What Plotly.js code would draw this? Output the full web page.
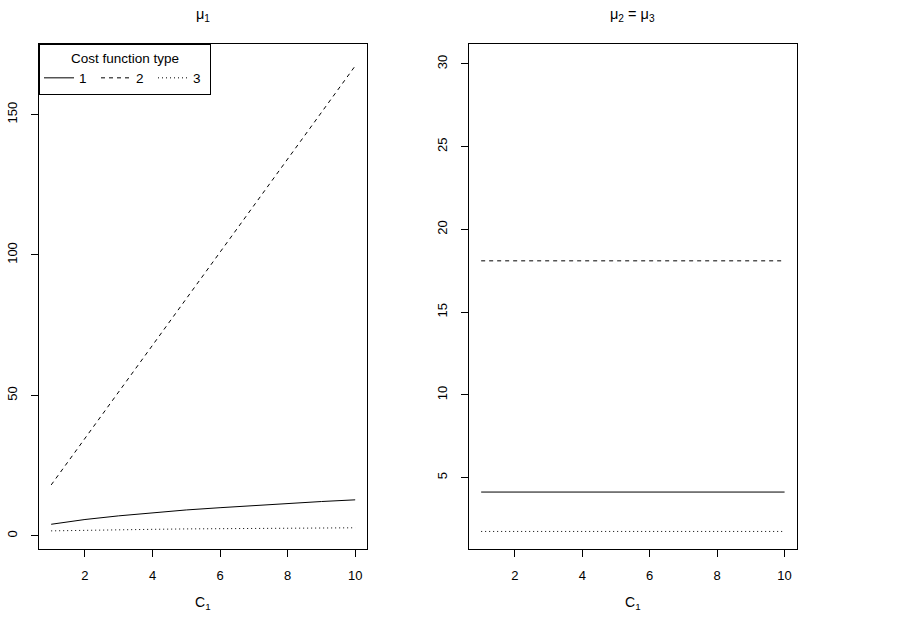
<!DOCTYPE html>
<html>
<head>
<meta charset="utf-8">
<script src="https://cdn.plot.ly/plotly-3.0.1.min.js"></script>
<style>
  body { margin: 0; background: #fff; }
  #chart { width: 903px; height: 619px; }
</style>
</head>
<body>
<div id="chart"></div>
<script>
// C1 values
const c1 = [1, 2, 3, 4, 5, 6, 7, 8, 9, 10];

// mu1 by cost function type (left panel)
const mu1Type1 = [4.1, 5.8, 7.1, 8.2, 9.2, 10.0, 10.8, 11.5, 12.2, 12.8];
const mu1Type2 = [18.1, 34.7, 51.3, 67.8, 84.4, 101.0, 117.6, 134.2, 150.7, 167.3];
const mu1Type3 = [1.75, 2.0, 2.2, 2.3, 2.45, 2.55, 2.6, 2.7, 2.75, 2.85];

// mu2 = mu3 by cost function type (right panel)
const mu23Type1 = [4.13, 4.13, 4.13, 4.13, 4.13, 4.13, 4.13, 4.13, 4.13, 4.13];
const mu23Type2 = [18.1, 18.1, 18.1, 18.1, 18.1, 18.1, 18.1, 18.1, 18.1, 18.1];
const mu23Type3 = [1.75, 1.75, 1.75, 1.75, 1.75, 1.75, 1.75, 1.75, 1.75, 1.75];

const typeNames = ['1', '2', '3'];
const xTicks = [2, 4, 6, 8, 10];
const leftTicks = [0, 50, 100, 150];
const rightTicks = [5, 10, 15, 20, 25, 30];

const dashes = ['solid', '4px,4px', '1px,3px'];
const font = 'Liberation Sans, Arial, Helvetica, sans-serif';

const left = [mu1Type1, mu1Type2, mu1Type3];
const right = [mu23Type1, mu23Type2, mu23Type3];

const traces = [];
left.forEach((ys, i) => {
    traces.push({
        x: c1, y: ys, type: 'scatter', mode: 'lines',
        name: typeNames[i], legendgroup: typeNames[i],
        line: { color: '#000', width: 1, dash: dashes[i] },
        xaxis: 'x', yaxis: 'y'
    });
});
right.forEach((ys, i) => {
    traces.push({
        x: c1, y: ys, type: 'scatter', mode: 'lines',
        name: typeNames[i], legendgroup: typeNames[i], showlegend: false,
        line: { color: '#000', width: 1, dash: dashes[i] },
        xaxis: 'x2', yaxis: 'y2'
    });
});

const axisBase = {
    showline: true, mirror: true, linecolor: '#000', linewidth: 1,
    showgrid: false, zeroline: false,
    ticks: 'outside', ticklen: 7, tickwidth: 1, tickcolor: '#000',
    tickfont: { family: font, size: 13, color: '#000' }
};

const yDomain = [0.1131, 0.9289];

const layout = {
    width: 903, height: 619,
    margin: { l: 0, r: 0, t: 0, b: 0 },
    paper_bgcolor: '#fff', plot_bgcolor: '#fff',
    font: { family: font, size: 13, color: '#000' },
    xaxis: Object.assign({}, axisBase, {
        domain: [0.0432, 0.4068], range: [0.64, 10.36],
        tickvals: xTicks, ticklabelstandoff: 7, anchor: 'y'
    }),
    yaxis: Object.assign({}, axisBase, {
        domain: yDomain, range: [-4.7, 175.1],
        tickvals: leftTicks, tickangle: -90, ticklabelstandoff: 9, anchor: 'x'
    }),
    xaxis2: Object.assign({}, axisBase, {
        domain: [0.5194, 0.8823], range: [0.64, 10.36],
        tickvals: xTicks, ticklabelstandoff: 7, anchor: 'y2'
    }),
    yaxis2: Object.assign({}, axisBase, {
        domain: yDomain, range: [0.69, 31.2],
        tickvals: rightTicks, tickangle: -90, ticklabelstandoff: 9, anchor: 'x2'
    }),
    showlegend: true,
    legend: {
        x: 0.0432, y: 0.9289, xanchor: 'left', yanchor: 'top',
        orientation: 'h', entrywidth: 12, entrywidthmode: 'pixels',
        itemwidth: 30,
        title: { text: 'Cost function type', side: 'top center', font: { size: 13.5 } },
        bordercolor: '#000', borderwidth: 1, bgcolor: '#fff',
        font: { family: font, size: 13.5, color: '#000' }
    },
    annotations: [
        { text: 'μ<sub>1</sub>', x: 0.225, y: 0.9758, xref: 'paper', yref: 'paper',
          showarrow: false, xanchor: 'center', yanchor: 'middle', font: { size: 14.5 } },
        { text: 'μ<sub>2</sub> = μ<sub>3</sub>', x: 0.7008, y: 0.9758, xref: 'paper', yref: 'paper',
          showarrow: false, xanchor: 'center', yanchor: 'middle', font: { size: 14.5 } },
        { text: 'C<sub>1</sub>', x: 0.225, y: 0.0258, xref: 'paper', yref: 'paper',
          showarrow: false, xanchor: 'center', yanchor: 'middle', font: { size: 14 } },
        { text: 'C<sub>1</sub>', x: 0.7008, y: 0.0258, xref: 'paper', yref: 'paper',
          showarrow: false, xanchor: 'center', yanchor: 'middle', font: { size: 14 } }
    ]
};

Plotly.newPlot('chart', traces, layout, { staticPlot: true });
</script>
</body>
</html>
